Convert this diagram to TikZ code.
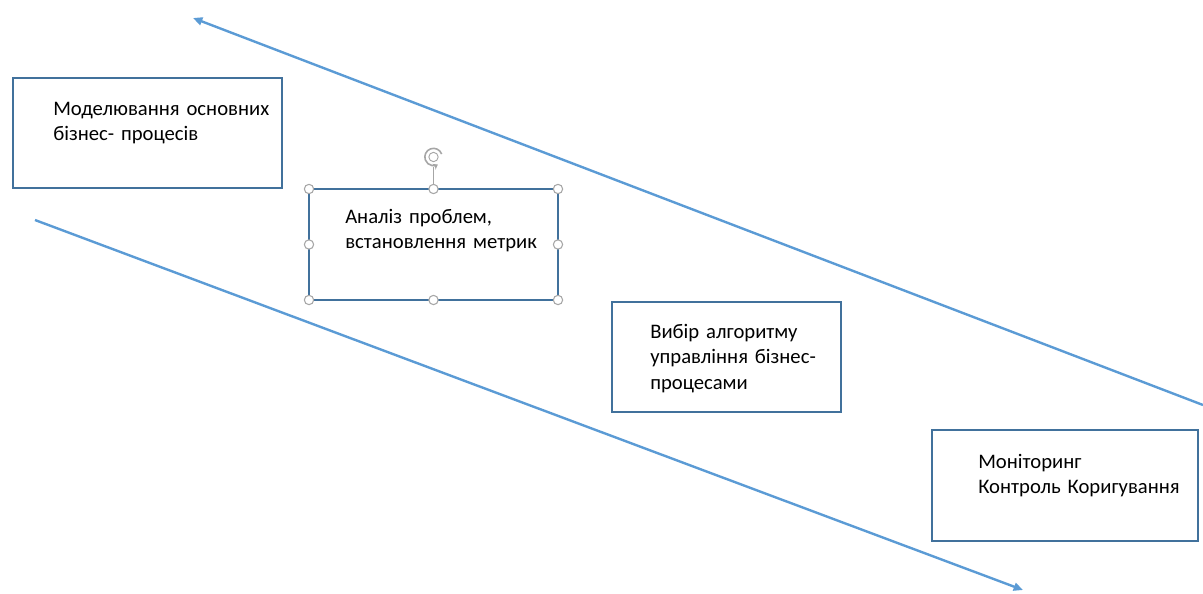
\documentclass[tikz,border=0pt]{standalone}
\usepackage{fontspec}
\setmainfont{Carlito}
\usetikzlibrary{arrows.meta,positioning,fit}
\definecolor{boxblue}{HTML}{41719C}
\definecolor{arrblue}{HTML}{5B9BD5}
\definecolor{hgray}{HTML}{A6A6A6}

\begin{document}
\begin{tikzpicture}[x=0.75pt,y=-0.75pt,
    box/.style={draw=boxblue,line width=2pt,inner sep=0pt,outer sep=0pt},
    txt/.style={font=\fontsize{15.5}{19.2}\selectfont,align=left,text width=230pt,inner sep=0pt,anchor=base west},
    flow/.style={draw=arrblue,line width=1.8pt,-{Triangle[length=7pt,width=6pt]}},
    handle/.style={circle,draw=hgray,fill=white,line width=0.8pt,inner sep=0pt,minimum size=7pt}]
        \useasboundingbox (0,0) rectangle (1203,593);

        % the two long arrows
        \coordinate (backS) at (1203,405);
        \coordinate (backE) at (193,18);
        \coordinate (fwdS) at (35,220);
        \coordinate (fwdE) at (1023,590);
        \draw[flow] (backS)--(backE);
        \draw[flow] (fwdS)--(fwdE);

        % boxes
        \node[box,fit={(13,78) (282,188)}] (model) {};
        \node[box,fit={(309,189) (558,300)}] (analiz) {};
        \node[box,fit={(612,302) (841,412)}] (vybir) {};
        \node[box,fit={(932,430) (1198,541)}] (monit) {};

        \node[txt] (modeltxt) at (53,115) {Моделювання основних\\бізнес- процесів};
        \node[txt] (analiztxt) at (345,223) {Аналіз проблем,\\встановлення метрик};
        \node[txt] (vybirtxt) at (650,338) {Вибір алгоритму\\управління бізнес-\\процесами};
        \node[txt] (monittxt) at (978,468) {Моніторинг\\Контроль Коригування};

        % selection handles
        \draw[hgray,line width=0.8pt] (analiz.north)--++(0,-22) coordinate (rotbase);
        \coordinate (rot) at ([yshift=7.5pt]rotbase);
        \draw[hgray,line width=1.2pt,-{Stealth[length=3.5pt,width=5pt]}] (rot) ++(20:6.5pt) arc (20:300:6.5pt);
        \draw[hgray,line width=0.7pt] (rot) circle (3.5pt);
        \foreach \a in {north west,north,north east,east,south east,south,south west,west}
            \node[handle] at (analiz.\a) {};
\end{tikzpicture}
\end{document}
